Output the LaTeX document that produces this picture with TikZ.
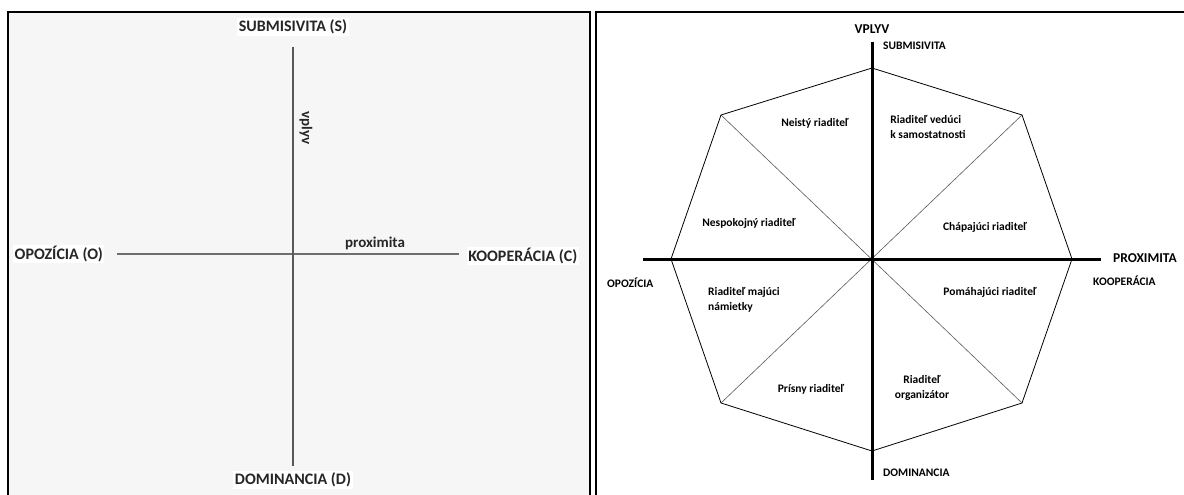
\documentclass[tikz,border=0pt]{standalone}
\usepackage{fontspec}
\setmainfont{Carlito}
\definecolor{scanbg}{HTML}{F6F6F6}
\definecolor{scanink}{HTML}{262626}
\definecolor{scanline}{HTML}{6E6E6E}
\definecolor{diag}{HTML}{5A5A5A}
\begin{document}
\begin{tikzpicture}[x=1pt,y=-1pt,
  frame/.style={line width=2.5pt, black},
  scanlab/.style={font=\bfseries\fontsize{16}{18}\selectfont, text=scanink, inner sep=1.5pt, fill=white},
  scansmall/.style={font=\bfseries\fontsize{15}{17}\selectfont, text=scanink, inner sep=1pt},
  axislab/.style={font=\bfseries\fontsize{11.5}{14}\selectfont, inner sep=0pt},
  biglab/.style={font=\bfseries\fontsize{13.5}{16}\selectfont, inner sep=0pt},
  sector/.style={font=\bfseries\fontsize{11.5}{15}\selectfont, inner sep=0pt},
  axisline/.style={line width=3pt, black},
  octedge/.style={line width=0.8pt, black},
  octdiag/.style={line width=0.6pt, diag}]
\useasboundingbox (0,0) rectangle (1184,495);
\fill[white] (0,0) rectangle (1184,495);
% ---------- left panel (scanned figure) ----------
\fill[scanbg] (8,12) rectangle (590,495);
\draw[frame] (8,495) -- (8,12) -- (590,12) -- (590,495);
\draw[frame] (596,495) -- (596,12) -- (1184,12);

\node[scanlab] (S) at (293,27) {SUBMISIVITA (S)};
\node[scanlab] (D) at (293,480) {DOMINANCIA (D)};
\node[scanlab, anchor=west] (O) at (13,254) {OPOZÍCIA (O)};
\node[scanlab, anchor=east] (C) at (579,256) {KOOPERÁCIA (C)};
\node[scansmall] (prox) at (375,243) {proximita};
\node[scansmall, rotate=-90] (vpl) at (306,128) {vplyv};

\coordinate (vt) at (293,47);
\coordinate (vb) at (293,466);
\coordinate (hl) at (117,254);
\coordinate (hr) at (459,254);
\draw[scanline, line width=2.4pt] (hl) -- (hr);
\draw[scanline!80!black, line width=1.4pt] (vt) -- (vb);

% ---------- right panel (octagon) ----------
\coordinate (c) at (872,259);
\coordinate (T) at (872,68);
\coordinate (UR) at (1022,115);
\coordinate (R) at (1072,259);
\coordinate (LR) at (1022,403);
\coordinate (B) at (872,451);
\coordinate (LL) at (721,403);
\coordinate (L) at (671,259);
\coordinate (UL) at (721,115);

\draw[octdiag] (UL) -- (LR);
\draw[octdiag] (UR) -- (LL);
\draw[octedge] (T) -- (UR) -- (R) -- (LR) -- (B) -- (LL) -- (L) -- (UL) -- cycle;

\coordinate (atop) at (872,42);
\coordinate (abot) at (872,480);
\coordinate (aleft) at (643,259);
\coordinate (aright) at (1101,259);
\draw[axisline] (atop) -- (abot);
\draw[axisline] (aleft) -- (aright);

\node[biglab] (vplyv) at (872,29) {VPLYV};
\node[axislab, anchor=west] (subm) at (883,46) {SUBMISIVITA};
\node[axislab, anchor=west] (domi) at (883,473) {DOMINANCIA};
\node[axislab, anchor=west] (opoz) at (607,283) {OPOZÍCIA};
\node[axislab, anchor=west] (koop) at (1093,281) {KOOPERÁCIA};
\node[biglab, anchor=west] (proxr) at (1113,258) {PROXIMITA};

\node[sector] (s1) at (815,123) {Neistý riaditeľ};
\node[sector, align=left] (s2) at (928,127) {Riaditeľ vedúci\\k samostatnosti};
\node[sector] (s3) at (749,223) {Nespokojný riaditeľ};
\node[sector] (s4) at (985,227) {Chápajúci riaditeľ};
\node[sector, align=left, anchor=west] (s5) at (708,300) {Riaditeľ majúci\\námietky};
\node[sector] (s6) at (990,292) {Pomáhajúci riaditeľ};
\node[sector] (s7) at (811,389) {Prísny riaditeľ};
\node[sector, align=center] (s8) at (922,388) {Riaditeľ\\organizátor};
\end{tikzpicture}
\end{document}
